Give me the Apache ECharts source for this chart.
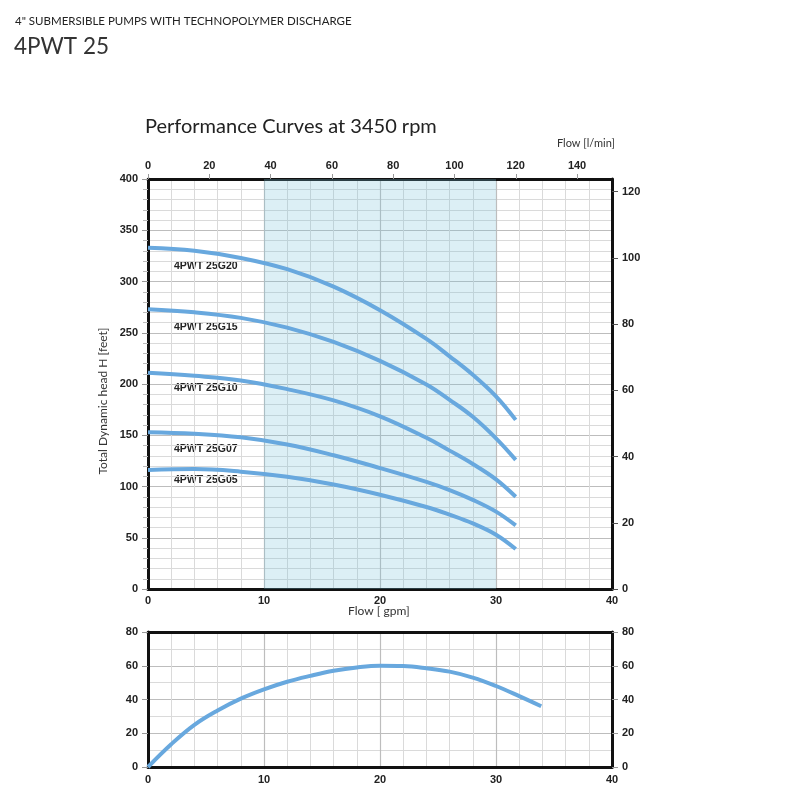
<!DOCTYPE html>
<html>
<head>
<meta charset="utf-8">
<script src="https://cdn.jsdelivr.net/npm/echarts@6/dist/echarts.min.js"></script>
<style>
  html, body { margin: 0; padding: 0; background: #fff; }
  #chart { width: 800px; height: 800px; }
</style>
</head>
<body>
<div id="chart"></div>
<script>
// head curves (flow in gpm, head in feet)
var flowGpm = [0, 4, 8, 12, 16, 20, 24, 26, 28, 30, 31.7];
var headG20 = [333, 330, 323, 312, 295, 272, 244, 227, 209, 188, 165];
var headG15 = [273, 270, 264.5, 255, 241, 222.5, 199.5, 184.5, 168, 147, 126];
var headG10 = [211, 208, 203.5, 195, 184, 168.5, 147.5, 135, 122, 107, 90];
var headG07 = [153, 151.5, 148, 141, 130.5, 118, 104.5, 96.5, 87, 75.5, 62];
var headG05 = [116, 117, 114.5, 109.5, 102, 92, 80, 72.5, 64, 53, 39];
var curveNames = ['4PWT 25G20', '4PWT 25G15', '4PWT 25G10', '4PWT 25G07', '4PWT 25G05'];

// efficiency curve
var effFlow = [0, 2, 4, 6, 8, 10, 12, 14, 16, 18, 20, 22, 24, 26, 28, 30, 32, 33.9];
var effVals = [0, 13.5, 25, 33.5, 40.5, 46, 50.5, 54, 57, 59, 60, 59.8, 58.5, 56.5, 53, 48, 42, 36];

// recommended range
var rangeGpm = [10, 30];

var blue = '#68a8de';
var lab = { fontFamily: 'Liberation Sans, Arial', fontWeight: 'bold', fontSize: 11, color: '#222' };

function pairs(xs, ys) {
    return xs.map(function (x, i) { return [x, ys[i]]; });
}

var heads = [headG20, headG15, headG10, headG07, headG05];

var series = heads.map(function (h, i) {
    var s = {
        name: curveNames[i],
        type: 'line',
        xAxisIndex: 0,
        yAxisIndex: 0,
        smooth: 0.4,
        symbol: 'none',
        lineStyle: { color: blue, width: 4 },
        data: pairs(flowGpm, h),
        z: 5
    };
    if (i === 0) {
        s.markArea = {
            silent: true,
            itemStyle: { color: 'rgba(120,195,215,0.26)' },
            data: [[{ xAxis: rangeGpm[0] }, { xAxis: rangeGpm[1] }]]
        };
    }
    return s;
});

series.push({
    name: 'eff',
    type: 'line',
    xAxisIndex: 2,
    yAxisIndex: 2,
    smooth: 0.4,
    symbol: 'none',
    lineStyle: { color: blue, width: 4 },
    data: pairs(effFlow, effVals),
    z: 5
});

var border = { show: true, onZero: false, lineStyle: { color: '#111', width: 3 } };
var major = { show: true, lineStyle: { color: '#bdbdbd', width: 1.2 } };
var minor = { show: true, lineStyle: { color: '#dadada', width: 1 } };
var noMinor = { show: false };

var option = {
    animation: false,
    grid: [
        { left: 148, top: 179, width: 464, height: 410 },
        { left: 148, top: 632, width: 464, height: 135 }
    ],
    xAxis: [
        {
            gridIndex: 0, type: 'value', position: 'bottom', min: 0, max: 40, interval: 10,
            axisLine: border, axisTick: { show: false },
            axisLabel: Object.assign({ margin: 6 }, lab),
            splitLine: major, minorTick: { show: false, splitNumber: 5 }, minorSplitLine: minor
        },
        {
            gridIndex: 0, type: 'value', position: 'top', min: 0, max: 40 * 3.785, interval: 20,
            axisLine: border, axisTick: { show: true, length: 5, lineStyle: { color: '#999' } },
            axisLabel: Object.assign({ margin: 8, showMaxLabel: false }, lab),
            splitLine: { show: false }, minorTick: noMinor
        },
        {
            gridIndex: 1, type: 'value', position: 'bottom', min: 0, max: 40, interval: 10,
            axisLine: border, axisTick: { show: false },
            axisLabel: Object.assign({ margin: 7 }, lab),
            splitLine: major, minorTick: { show: false, splitNumber: 5 }, minorSplitLine: minor
        },
        {
            gridIndex: 1, type: 'value', position: 'top', min: 0, max: 40,
            axisLine: border, axisTick: { show: false }, axisLabel: { show: false },
            splitLine: { show: false }, minorTick: noMinor
        }
    ],
    yAxis: [
        {
            gridIndex: 0, type: 'value', position: 'left', min: 0, max: 400, interval: 50,
            axisLine: border, axisTick: { show: true, length: 6, lineStyle: { color: '#999' } },
            minorTick: { show: true, splitNumber: 5, length: 5, lineStyle: { color: '#bbb' } },
            axisLabel: Object.assign({ margin: 10 }, lab),
            splitLine: major, minorSplitLine: minor
        },
        {
            gridIndex: 0, type: 'value', position: 'right', min: 0, max: 123.8, interval: 20,
            axisLine: border, axisTick: { show: true, length: 6, lineStyle: { color: '#555' } },
            axisLabel: Object.assign({ margin: 10, showMaxLabel: false }, lab),
            splitLine: { show: false }, minorTick: noMinor
        },
        {
            gridIndex: 1, type: 'value', position: 'left', min: 0, max: 80, interval: 20,
            axisLine: border, axisTick: { show: true, length: 6, lineStyle: { color: '#999' } },
            axisLabel: Object.assign({ margin: 10 }, lab),
            splitLine: major, minorTick: { show: false, splitNumber: 2 }, minorSplitLine: minor
        },
        {
            gridIndex: 1, type: 'value', position: 'right', min: 0, max: 80, interval: 20,
            axisLine: border, axisTick: { show: true, length: 6, lineStyle: { color: '#999' } },
            axisLabel: Object.assign({ margin: 10 }, lab),
            splitLine: { show: false }, minorTick: noMinor
        }
    ],
    graphic: [
        { type: 'text', left: 15, top: 15, style: { text: '4" SUBMERSIBLE PUMPS WITH TECHNOPOLYMER DISCHARGE', font: '11.5px Lato, sans-serif', fill: '#222' } },
        { type: 'text', left: 14, top: 35, style: { text: '4PWT 25', font: '22.5px Lato, sans-serif', fill: '#333' } },
        { type: 'text', left: 145, top: 117, style: { text: 'Performance Curves at 3450 rpm', font: '20px Lato, sans-serif', fill: '#222' } },
        { type: 'text', left: 557, top: 138, style: { text: 'Flow [l/min]', font: '11px Lato, sans-serif', fill: '#333' } },
        { type: 'text', left: 348, top: 605, style: { text: 'Flow [ gpm]', font: '12px Lato, sans-serif', fill: '#333' } },
        { type: 'text', x: 103, y: 401, rotation: Math.PI / 2,
          style: { text: 'Total Dynamic head H [feet]', font: '12px Lato, sans-serif', fill: '#333', align: 'center', verticalAlign: 'middle' } },
        { type: 'text', left: 174, top: 261, style: { text: curveNames[0], font: 'bold 10.5px Liberation Sans, Arial', fill: '#222' } },
        { type: 'text', left: 174, top: 322, style: { text: curveNames[1], font: 'bold 10.5px Liberation Sans, Arial', fill: '#222' } },
        { type: 'text', left: 174, top: 383, style: { text: curveNames[2], font: 'bold 10.5px Liberation Sans, Arial', fill: '#222' } },
        { type: 'text', left: 174, top: 444, style: { text: curveNames[3], font: 'bold 10.5px Liberation Sans, Arial', fill: '#222' } },
        { type: 'text', left: 174, top: 475, style: { text: curveNames[4], font: 'bold 10.5px Liberation Sans, Arial', fill: '#222' } }
    ],
    series: series
};

var myChart = echarts.init(document.getElementById('chart'));
myChart.setOption(option);
</script>
</body>
</html>
